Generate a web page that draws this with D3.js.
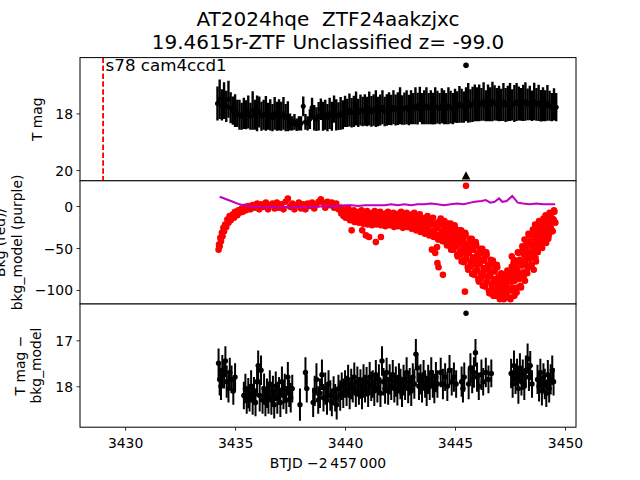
<!DOCTYPE html>
<html><head><meta charset="utf-8">
<script src="https://cdn.jsdelivr.net/npm/d3@7"></script>
<style>body{margin:0;background:#fff} text{font-family:"DejaVu Sans",sans-serif;white-space:pre}</style>
</head><body><svg id="c" width="640" height="480"></svg>
<script>
// ---------------- DATA ----------------
const titleLines = ["AT2024hqe  ZTF24aakzjxc", "19.4615r-ZTF Unclassified z= -99.0"];
const sectorLabel = "s78 cam4ccd1";
const sectorStart = [3429.0];
const xTicks = [3430, 3435, 3440, 3445, 3450];
const topTicks = [18, 20];
const midTicks = [0, -50, -100];
const botTicks = [17, 18];

// T mag light curve
const tmagTime = [3434.2,3434.3,3434.4,3434.5,3434.6,3434.7,3434.8,3434.9,
3435.0,3435.1,3435.2,3435.3,3435.4,3435.5,3435.6,3435.7,3435.8,3435.9,
3436.0,3436.1,3436.2,3436.3,3436.4,3436.5,3436.6,3436.7,3436.8,3436.9,
3437.0,3437.1,3437.2,3437.3,3437.4,3437.5,3437.6,3437.7,3437.8,3437.9,
3438.0,3438.1,3438.2,3438.3,3438.4,3438.5,3438.6,3438.7,3438.8,3438.9,
3439.0,3439.1,3439.2,3439.3,3439.4,3439.5,3439.6,3439.7,3439.8,3439.9,
3440.0,3440.1,3440.2,3440.3,3440.4,3440.5,3440.6,3440.7,3440.8,3440.9,
3441.0,3441.1,3441.2,3441.3,3441.4,3441.5,3441.6,3441.7,3441.8,3441.9,
3442.0,3442.1,3442.2,3442.3,3442.4,3442.5,3442.6,3442.7,3442.8,3442.9,
3443.0,3443.1,3443.2,3443.3,3443.4,3443.5,3443.6,3443.7,3443.8,3443.9,
3444.0,3444.1,3444.2,3444.3,3444.4,3444.5,3444.6,3444.7,3444.8,3444.9,
3445.0,3445.1,3445.2,3445.3,3445.4,3445.5,3445.6,3445.7,3445.8,3445.9,
3446.0,3446.1,3446.2,3446.3,3446.4,3446.5,3446.6,3446.7,3446.8,3446.9,
3447.0,3447.1,3447.2,3447.3,3447.4,3447.5,3447.6,3447.7,3447.8,3447.9,
3448.0,3448.1,3448.2,3448.3,3448.4,3448.5,3448.6,3448.7,3448.8,3448.9,
3449.0,3449.1,3449.2,3449.3,3449.4,3449.5,3449.6];
const tmagValue = [17.65,17.5,17.7,17.55,17.75,17.5,17.8,17.9,
17.9,18.0,18.05,18.1,18.0,18.05,17.95,18.1,17.9,18.05,
18.0,17.95,18.1,18.05,18.0,18.1,18.05,18.15,18.0,18.1,
18.05,18.1,18.0,18.15,18.1,18.3,18.35,18.3,18.4,18.35,
18.35,17.75,18.3,18.35,18.2,17.8,18.15,18.2,18.1,17.85,
18.1,18.05,18.15,18.0,18.1,17.85,18.05,18.1,18.0,18.05,
17.93,17.98,17.88,17.98,17.93,17.83,17.98,17.88,17.93,17.88,
17.93,17.83,17.93,17.88,17.83,17.93,17.88,17.78,17.93,17.88,
17.83,17.88,17.78,17.88,17.83,17.73,17.88,17.83,17.78,17.88,
17.78,17.83,17.73,17.83,17.68,17.83,17.78,17.73,17.83,17.78,
17.83,17.73,17.78,17.83,17.73,17.78,17.83,17.73,17.78,17.83,
17.73,17.78,17.68,17.73,17.78,17.68,17.63,17.73,17.68,17.63,
17.68,17.63,17.68,17.58,17.73,17.63,17.68,17.58,17.63,17.68,
17.65,17.7,17.6,17.7,17.65,17.6,17.7,17.65,17.6,17.65,
17.68,17.63,17.58,17.68,17.63,17.73,17.58,17.68,17.63,17.73,
17.68,17.73,17.63,17.73,17.78,17.68,17.78];
const tmagErr = [0.6,0.7,0.55,0.65,0.55,0.65,0.55,0.5,
0.58,0.48,0.53,0.48,0.55,0.51,0.58,0.48,0.68,0.53,
0.63,0.55,0.51,0.53,0.61,0.48,0.55,0.48,0.58,0.51,
0.55,0.51,0.58,0.48,0.53,0.30,0.25,0.28,0.22,0.25,
0.25,0.35,0.28,0.25,0.35,0.35,0.45,0.42,0.5,0.38,
0.51,0.53,0.48,0.55,0.51,0.48,0.55,0.49,0.58,0.51,
0.55,0.5,0.58,0.52,0.55,0.6,0.5,0.55,0.52,0.56,
0.52,0.6,0.54,0.56,0.65,0.52,0.55,0.6,0.52,0.56,
0.58,0.54,0.6,0.55,0.58,0.65,0.52,0.57,0.6,0.54,
0.6,0.55,0.65,0.56,0.62,0.55,0.6,0.65,0.55,0.6,
0.56,0.65,0.58,0.55,0.62,0.6,0.55,0.65,0.58,0.55,
0.6,0.56,0.65,0.6,0.55,0.6,0.7,0.58,0.62,0.65,
0.6,0.65,0.58,0.68,0.55,0.65,0.6,0.7,0.62,0.58,
0.63,0.57,0.67,0.6,0.63,0.67,0.55,0.65,0.67,0.6,
0.58,0.64,0.68,0.56,0.61,0.54,0.66,0.58,0.64,0.56,
0.6,0.55,0.63,0.53,0.5,0.57,0.5];
// ZTF point and limit
const ztfTime = [3445.5];
const ztfMag = [16.30];
const ztfLimitTime = [3445.5];
const ztfLimitMag = [20.2];

// background flux (red)
const bkgTime = [
3434.25,3434.27,3434.30,3434.33,3434.36,3434.40,3434.43,3434.47,3434.50,3434.55,3434.60,3434.65,3434.70,3434.75,
3434.80,3434.90,3434.95,3435.00,3435.10,3435.15,3435.20,3435.30,3435.35,3435.45,3435.50,3435.60,3435.70,3435.80,
3435.9,3436.0,3436.1,3436.2,3436.3,3436.4,3436.5,3436.6,3436.7,3436.8,3436.9,3437.0,3437.1,3437.2,3437.3,3437.4,
3437.5,3437.6,3437.7,3437.8,3437.9,3438.0,3438.1,3438.2,3438.3,3438.4,3438.5,3438.6,3438.7,3438.8,3438.9,3439.0,
3439.1,3439.2,3439.3,3439.4,3439.5,3439.6,3439.7,
3439.80,3439.85,3439.90,3439.95,3440.00,3440.05,3440.10,3440.15,3440.20,3440.25,3440.30,3440.35,3440.40,3440.45,
3440.50,3440.55,3440.60,3440.65,3440.70,3440.75,3440.80,3440.85,3440.90,3440.95,3441.00,3441.05,3441.10,3441.15,
3441.20,3441.25,3441.30,3441.35,3441.40,3441.45,3441.50,3441.55,3441.60,3441.65,3441.70,3441.75,3441.80,3441.85,
3441.90,3441.95,3442.00,3442.05,3442.10,3442.15,3442.20,3442.25,3442.30,3442.35,3442.40,3442.45,3442.50,3442.55,
3442.60,3442.65,3442.70,3442.75,3442.80,3442.85,3442.90,3442.95,3443.00,3443.05,3443.10,3443.15,3443.20,3443.25,
3443.30,3443.35,3443.40,3443.45,3443.50,3443.55,3443.60,3443.65,3443.70,3443.75,3443.80,3443.85,3443.90,3443.95,
3444.00,3444.05,3444.10,3444.15,3444.20,3444.25,3444.30,3444.35,3444.40,3444.45,3444.50,
3440.30,3440.78,3440.95,3441.09,3441.40,3441.63,
3443.95,3444.10,3444.18,3444.20,3444.25,3444.45,3445.45,
3444.52,3444.56,3444.60,3444.64,3444.68,3444.72,3444.76,3444.80,3444.84,3444.88,3444.92,3444.96,
3445.00,3445.04,3445.08,3445.12,3445.16,3445.20,3445.24,3445.28,3445.32,3445.36,3445.40,3445.44,
3445.48,3445.52,3445.56,3445.60,3445.64,3445.68,3445.72,3445.76,3445.80,3445.84,3445.88,3445.92,
3445.96,3446.00,3446.04,3446.08,3446.12,3446.16,3446.20,3446.24,3446.28,3446.32,3446.36,3446.40,
3446.44,3446.48,3446.52,3446.56,3446.60,3446.64,3446.68,3446.72,3446.76,3446.80,3446.84,3446.88,
3446.92,3446.96,3447.00,3447.04,3447.08,3447.12,3447.16,3447.20,3447.24,3447.28,3447.32,3447.36,
3447.40,3447.44,3447.48,3447.52,3447.56,3447.60,3447.64,3447.68,3447.72,3447.76,3447.80,3447.84,
3447.88,3447.92,3447.96,3448.00,3448.04,3448.08,3448.12,3448.16,3448.20,3448.24,3448.28,3448.32,
3448.36,3448.40,3448.44,3448.48,3448.52,3448.56,3448.60,3448.64,3448.68,3448.72,3448.76,3448.80,
3448.84,3448.88,3448.92,3448.96,3449.00,3449.04,3449.08,3449.12,3449.16,3449.20,3449.24,3449.28,
3449.32,3449.36,3449.40,3449.44,3449.48,3449.52,3449.56,
3447.58,3447.66,3448.58,3448.68,
3445.5];
const bkgFlux = [
-52,-46,-48,-38,-42,-32,-36,-26,-30,-22,-25,-16,-20,-12,
-17,-10,-14,-7,-11,-5,-8,-3,-7,-1,-5,0,-4,1,
-2,3,-4,2,-1,4,-4,1,3,-3,4,-2,2,-4,5,9,
-1,3,-4,1,4,-3,2,-4,3,0,4,-3,2,5,8,4,
-2,5,1,4,-2,3,-4,
-2,-6,-4,-10,-6,-4,-10,-3,-10,-6,-13,-9,-5,-12,
-8,-15,-10,-7,-14,-5,-12,-8,-16,-11,-6,-14,-10,-18,
-12,-8,-16,-6,-13,-9,-18,-12,-7,-15,-10,-19,-13,-9,
-17,-7,-14,-10,-19,-13,-8,-16,-11,-20,-14,-9,-18,-7,
-15,-11,-20,-13,-8,-17,-12,-21,-15,-10,-20,-8,-18,-13,
-24,-16,-10,-22,-16,-28,-20,-14,-27,-12,-24,-18,-31,-22,
-14,-29,-21,-36,-26,-19,-34,-15,-30,-23,-39,
-29,-29,-35,-37,-43,-37,
-52,-56,-49,-68,-73,-82,-102,
-18,-37,-27,-47,-34,-25,-45,-21,-40,-31,-52,-37,
-26,-48,-36,-60,-44,-33,-58,-29,-52,-41,-67,-49,
-34,-62,-47,-76,-56,-44,-72,-39,-65,-52,-82,-62,
-46,-76,-60,-90,-69,-56,-86,-51,-79,-65,-96,-75,
-58,-89,-73,-104,-83,-69,-99,-65,-91,-78,-107,-87,
-73,-100,-86,-111,-94,-84,-106,-82,-99,-88,-109,-92,
-79,-101,-87,-111,-90,-75,-101,-64,-89,-73,-103,-77,
-56,-87,-66,-97,-71,-52,-84,-40,-68,-50,-80,-54,
-35,-63,-44,-71,-48,-32,-58,-22,-45,-31,-55,-35,
-19,-43,-28,-50,-31,-19,-40,-11,-30,-19,-39,-22,
-9,-27,-15,-30,-16,-7,-20,
-60,-68,-76,-66,
24];
// background flux (red), interleaved cadence in the dip
const bkgTime2 = [3444.54,3444.58,3444.62,3444.66,3444.70,3444.74,3444.78,3444.82,3444.86,3444.90,3444.94,3444.98,
3445.02,3445.06,3445.10,3445.14,3445.18,3445.22,3445.26,3445.30,3445.34,3445.38,3445.42,3445.46,
3445.50,3445.54,3445.58,3445.62,3445.66,3445.70,3445.74,3445.78,3445.82,3445.86,3445.90,3445.94,
3445.98,3446.02,3446.06,3446.10,3446.14,3446.18,3446.22,3446.26,3446.30,3446.34,3446.38,3446.42,
3446.46,3446.50,3446.54,3446.58,3446.62,3446.66,3446.70,3446.74,3446.78,3446.82,3446.86,3446.90,
3446.94,3446.98,3447.02,3447.06,3447.10,3447.14,3447.18,3447.22,3447.26,3447.30,3447.34,3447.38,
3447.42,3447.46,3447.50,3447.54,3447.58,3447.62,3447.66,3447.70,3447.74,3447.78,3447.82,3447.86,
3447.90,3447.94,3447.98,3448.02,3448.06,3448.10,3448.14,3448.18,3448.22,3448.26,3448.30,3448.34,
3448.38,3448.42,3448.46,3448.50,3448.54,3448.58,3448.62,3448.66,3448.70,3448.74,3448.78,3448.82,
3448.86,3448.90,3448.94,3448.98,3449.02,3449.06,3449.10,3449.14,3449.18,3449.22,3449.26,3449.30,
3449.34,3449.38,3449.42,3449.46,3449.50,3449.54];
const bkgFlux2 = [-34,-25,-45,-32,-21,-41,-31,-52,-37,-28,-49,-23,
-44,-34,-58,-42,-29,-54,-40,-66,-48,-37,-64,-32,
-57,-45,-73,-54,-39,-67,-52,-81,-61,-48,-78,-43,
-70,-57,-87,-66,-51,-81,-65,-95,-74,-61,-92,-55,
-84,-70,-101,-80,-64,-94,-78,-107,-87,-75,-103,-70,
-95,-84,-108,-92,-80,-102,-91,-111,-96,-85,-106,-77,
-98,-85,-109,-89,-72,-97,-80,-107,-84,-67,-97,-55,
-82,-64,-95,-69,-48,-79,-58,-89,-62,-44,-74,-33,
-59,-42,-70,-46,-28,-54,-37,-62,-40,-26,-50,-18,
-39,-26,-48,-30,-15,-37,-23,-44,-26,-15,-35,-8,
-25,-14,-30,-16,-5,-19];
// background flux (red), lower edge of the 3440-3444 band
const bkgTime3 = [3439.83,3439.93,3440.03,3440.13,3440.23,3440.33,3440.43,3440.53,3440.63,3440.73,3440.83,3440.93,
3441.03,3441.13,3441.23,3441.33,3441.43,3441.53,3441.63,3441.73,3441.83,3441.93,3442.03,3442.13,
3442.23,3442.33,3442.43,3442.53,3442.63,3442.73,3442.83,3442.93,3443.03,3443.13,3443.23,3443.33,
3443.43,3443.53,3443.63,3443.73,3443.83,3443.93,3444.03,3444.13,3444.23,3444.33,3444.43];
const bkgFlux3 = [-9,-12,-14,-11,-17,-15,-19,-16,-20,-17,-21,-18,
-22,-19,-23,-20,-22,-19,-23,-21,-24,-20,-23,-21,
-25,-22,-24,-21,-26,-23,-25,-22,-27,-24,-29,-26,
-31,-28,-33,-30,-35,-32,-37,-34,-40,-37,-42];
// background model (purple)
const bkgModelTime = [3434.3,3434.6,3434.9,3435.2,3435.5,3435.8,3436.1,3436.4,3436.7,3437.0,3437.3,3437.6,3437.9,
3438.2,3438.5,3438.8,3439.1,3439.4,3439.7,3440.0,3440.3,3440.6,3440.9,3441.2,3441.5,3441.8,3442.1,3442.4,
3442.7,3443.0,3443.3,3443.6,3443.9,3444.2,3444.5,3444.8,3445.1,3445.4,3445.7,3445.9,3446.2,3446.4,3446.6,
3446.8,3447.0,3447.15,3447.35,3447.6,3447.85,3448.1,3448.4,3448.7,3449.0,3449.3,3449.55];
const bkgModel = [11,8,5,2,0,-1,-1,-2,-1,-2,-1,-2,-1,
-2,-1,-1,0,-1,0,1,1,0,1,1,1,1,2,1,
2,1,2,2,3,2,1,2,3,2,4,5,6,7,4,
5,9,5,6,12,4,3,2,3,2,2,2];

// T mag - bkg_model
const diffTime = [3434.25,3434.30,3434.36,3434.42,3434.50,3434.56,3434.62,3434.70,3434.76,3434.84,3434.92,3435.00,
3435.40,3435.47,3435.53,3435.60,3435.66,3435.73,3435.80,3435.86,3435.93,3436.00,3436.05,3436.12,3436.18,3436.25,
3436.32,3436.38,3436.45,3436.52,3436.58,3436.65,3436.72,3436.78,3436.85,3436.92,3437.00,3437.06,3437.13,3437.20,
3437.26,3437.33,3437.40,3437.46,3437.53,3437.60,3437.95,3438.20,3438.26,3438.55,3438.62,3438.70,3438.78,3438.86,
3438.95,3439.02,3439.10,3439.18,3439.25,3439.33,3439.40,3439.48,3439.55,3439.62,3439.70,3439.78,3439.85,3439.92,
3440.00,3440.07,3440.14,3440.21,3440.28,3440.35,3440.42,3440.49,3440.56,3440.63,3440.70,3440.77,3440.84,3440.91,
3440.98,3441.05,3441.12,3441.19,3441.26,3441.33,3441.40,3441.47,3441.54,3441.61,3441.68,3441.75,3441.82,3441.89,
3441.96,3442.03,3442.10,3442.17,3442.24,3442.31,3442.38,3442.45,3442.52,3442.59,3442.66,3442.73,3442.80,3442.87,
3442.94,3443.01,3443.08,3443.15,3443.22,3443.29,3443.36,3443.43,3443.50,3443.57,3443.64,3443.71,3443.78,3443.85,
3443.92,3443.99,3444.06,3444.13,3444.20,3444.35,3444.45,3444.55,3444.65,3444.75,3444.85,3444.95,3445.05,3445.30,
3445.36,3445.42,3445.62,3445.70,3445.78,3445.86,3445.93,3446.00,3446.08,3446.20,3446.28,3446.40,3446.52,3446.65,
3447.55,3447.62,3447.68,3447.75,3447.82,3447.88,3447.95,3448.02,3448.08,3448.15,3448.22,3448.30,3448.36,3448.42,
3448.50,3448.75,3448.82,3448.88,3448.95,3449.02,3449.08,3449.15,3449.22,3449.28,3449.35,3449.42,3449.48,3445.5];
const diffValue = [17.50,17.85,18.00,17.65,17.75,17.45,17.90,18.05,17.70,17.85,18.10,17.80,
18.20,18.05,18.30,18.15,18.25,18.00,18.30,18.10,18.35,17.90,17.55,18.20,17.65,18.30,
18.05,18.35,18.15,18.25,17.95,18.30,18.10,18.40,18.00,18.25,18.10,18.35,17.90,18.20,
18.05,18.30,17.80,18.15,18.25,18.05,18.40,17.70,18.05,18.35,18.10,17.85,18.30,18.15,
17.75,18.25,18.05,18.30,17.95,18.20,18.35,18.10,18.25,18.40,18.05,18.20,18.00,18.15,
17.95,18.10,17.85,18.20,17.95,18.05,17.80,18.15,17.90,18.10,17.95,18.20,17.85,18.05,
17.90,18.15,17.80,18.00,17.95,18.10,17.75,18.05,17.85,18.15,17.45,17.90,18.05,17.70,
18.10,17.85,18.00,17.75,18.05,17.90,18.10,17.80,17.95,18.15,17.85,18.00,17.70,18.05,
17.90,18.10,17.80,17.95,17.30,17.60,18.00,17.85,18.05,17.75,17.95,18.10,17.85,18.00,
17.70,17.95,18.05,17.80,17.95,17.70,17.95,17.80,18.00,17.65,17.90,17.80,17.95,17.90,
18.05,17.80,17.95,17.60,17.85,17.70,17.27,17.80,18.00,17.75,17.90,17.70,17.85,17.72,
17.72,17.95,17.55,17.85,17.70,18.05,17.60,17.90,17.75,18.00,17.65,17.40,17.80,17.55,
17.95,17.85,18.00,17.70,18.10,17.80,17.95,18.15,17.75,18.05,17.85,17.65,17.90,16.41];
const diffErr = [0.32,0.35,0.30,0.33,0.30,0.32,0.35,0.30,0.32,0.30,0.30,0.30,
0.30,0.32,0.30,0.33,0.30,0.35,0.32,0.30,0.30,0.32,0.33,0.35,0.32,0.30,
0.33,0.30,0.32,0.35,0.30,0.32,0.33,0.30,0.32,0.35,0.30,0.32,0.33,0.30,
0.32,0.30,0.33,0.30,0.32,0.30,0.35,0.33,0.30,0.32,0.33,0.35,0.30,0.32,
0.33,0.30,0.35,0.32,0.30,0.33,0.30,0.32,0.30,0.32,0.30,0.33,0.30,0.32,
0.30,0.33,0.32,0.30,0.33,0.30,0.32,0.30,0.33,0.30,0.32,0.30,0.33,0.30,
0.32,0.30,0.33,0.32,0.30,0.33,0.32,0.30,0.33,0.30,0.32,0.30,0.33,0.32,
0.30,0.33,0.30,0.32,0.30,0.33,0.32,0.30,0.33,0.30,0.32,0.30,0.33,0.32,
0.30,0.33,0.30,0.32,0.33,0.32,0.30,0.33,0.30,0.32,0.30,0.33,0.32,0.30,
0.33,0.30,0.32,0.33,0.30,0.32,0.33,0.30,0.32,0.33,0.30,0.32,0.30,0.33,
0.30,0.32,0.33,0.32,0.30,0.33,0.30,0.32,0.30,0.33,0.30,0.32,0.30,0.30,
0.32,0.30,0.33,0.32,0.30,0.33,0.32,0.30,0.33,0.30,0.32,0.33,0.30,0.32,
0.30,0.32,0.33,0.30,0.32,0.30,0.33,0.30,0.32,0.30,0.33,0.32,0.30,0.03];

// ---------------- DRAW ----------------
const svg = d3.select("#c");
svg.append("rect").attr("width", 640).attr("height", 480).attr("fill", "#fff");
const L = 80, R = 576, Y = [57.6, 180.8, 304, 427.2];
const x = d3.scaleLinear().domain([3427.95, 3450.5]).range([L, R]);
const yTop = d3.scaleLinear().domain([16.03, 20.38]).range([Y[0], Y[1]]);
const yMid = d3.scaleLinear().domain([30, -116.7]).range([Y[1], Y[2]]);
const yBot = d3.scaleLinear().domain([16.21, 18.89]).range([Y[2], Y[3]]);
const FS = 13.9;

function panel(i) {
  const g = svg.append("g");
  g.append("rect").attr("x", L).attr("y", Y[i]).attr("width", R - L).attr("height", Y[i+1] - Y[i]).attr("fill", "#fff");
  const id = "clip" + i;
  svg.append("clipPath").attr("id", id).append("rect")
    .attr("x", L).attr("y", Y[i]).attr("width", R - L).attr("height", Y[i+1] - Y[i]);
  const c = g.append("g").attr("clip-path", `url(#${id})`);
  return {g, c};
}
function errorbars(c, t, v, e, y, color, sw, r) {
  const d = t.map((tt, k) => ({t: tt, v: v[k], e: e[k]}));
  c.append("g").selectAll("line").data(d).join("line")
    .attr("x1", q => x(q.t)).attr("x2", q => x(q.t))
    .attr("y1", q => y(q.v - q.e)).attr("y2", q => y(q.v + q.e))
    .attr("stroke", color).attr("stroke-width", sw);
  c.append("g").selectAll("circle").data(d).join("circle")
    .attr("cx", q => x(q.t)).attr("cy", q => y(q.v)).attr("r", r).attr("fill", color);
}
function yaxis(g, y, ticks) {
  const ax = g.append("g").attr("transform", `translate(${L},0)`)
    .call(d3.axisLeft(y).tickValues(ticks).tickSize(3.5).tickPadding(3.5).tickFormat(d3.format("d")));
  ax.select(".domain").remove();
  ax.selectAll("line").attr("stroke", "#000").attr("stroke-width", 0.8);
  ax.selectAll("text").attr("font-size", FS).attr("font-family", "DejaVu Sans").attr("fill", "#000").attr("dy", "0.36em");
}
function frame(g, i) {
  g.append("rect").attr("x", L).attr("y", Y[i]).attr("width", R - L).attr("height", Y[i+1] - Y[i])
    .attr("fill", "none").attr("stroke", "#000").attr("stroke-width", 1);
}

// top panel
const p0 = panel(0);
errorbars(p0.c, tmagTime, tmagValue, tmagErr, yTop, "#000", 2.4, 2.5);
p0.c.selectAll("circle.ztf").data(ztfTime).join("circle").attr("class", "ztf")
  .attr("cx", d => x(d)).attr("cy", (d, k) => yTop(ztfMag[k])).attr("r", 2.8).attr("fill", "#000");
p0.c.selectAll("path.lim").data(ztfLimitTime).join("path").attr("class", "lim")
  .attr("transform", (d, k) => `translate(${x(d)},${yTop(ztfLimitMag[k])})`)
  .attr("d", "M0,-4.5L4.3,3.8L-4.3,3.8Z").attr("fill", "#000");
p0.c.selectAll("line.sector").data(sectorStart).join("line").attr("class", "sector")
  .attr("x1", d => x(d)).attr("x2", d => x(d)).attr("y1", Y[0]).attr("y2", Y[1])
  .attr("stroke", "#ff0000").attr("stroke-width", 1.8).attr("stroke-dasharray", "5.5,2.4");
p0.g.selectAll("text.sector").data(sectorStart).join("text").attr("class", "sector")
  .attr("x", d => x(d) + 2.5).attr("y", 71).attr("font-size", 16.7).text(sectorLabel);
yaxis(p0.g, yTop, topTicks);
frame(p0.g, 0);

// middle panel
const p1 = panel(1);
const redPts = bkgTime.map((t, k) => [t, bkgFlux[k]])
  .concat(bkgTime2.map((t, k) => [t, bkgFlux2[k]]))
  .concat(bkgTime3.map((t, k) => [t, bkgFlux3[k]]));
p1.c.append("g").selectAll("circle").data(redPts).join("circle")
  .attr("cx", d => x(d[0])).attr("cy", d => yMid(d[1])).attr("r", 3.3).attr("fill", "#ff0000");
p1.c.append("path").datum(bkgModelTime.map((t, k) => [t, bkgModel[k]]))
  .attr("d", d3.line().x(d => x(d[0])).y(d => yMid(d[1])))
  .attr("fill", "none").attr("stroke", "#bf00bf").attr("stroke-width", 2);
yaxis(p1.g, yMid, midTicks);
frame(p1.g, 1);

// bottom panel
const p2 = panel(2);
errorbars(p2.c, diffTime, diffValue, diffErr, yBot, "#000", 2, 2.7);
yaxis(p2.g, yBot, botTicks);
const xa = p2.g.append("g").attr("transform", `translate(0,${Y[3]})`)
  .call(d3.axisBottom(x).tickValues(xTicks).tickSize(3.5).tickPadding(3.5).tickFormat(d3.format("d")));
xa.select(".domain").remove();
xa.selectAll("line").attr("stroke", "#000").attr("stroke-width", 0.8);
xa.selectAll("text").attr("font-size", FS).attr("font-family", "DejaVu Sans").attr("fill", "#000")
  .attr("y", 20.8).attr("dy", 0);
frame(p2.g, 2);

// labels
function ylab(lines, xs, cy) {
  lines.forEach((s, k) => {
    svg.append("text").attr("transform", `translate(${xs[k]},${cy}) rotate(-90)`)
      .attr("text-anchor", "middle").attr("font-size", FS).text(s);
  });
}
ylab(["T mag"], [42], (Y[0] + Y[1]) / 2);
ylab(["Bkg (red)/", "bkg_model (purple)"], [5, 21.5], (Y[1] + Y[2]) / 2);
ylab(["T mag \u2212", "bkg_model"], [24.5, 41], (Y[2] + Y[3]) / 2);
svg.append("text").attr("x", (L + R) / 2).attr("y", 468).attr("text-anchor", "middle").attr("font-size", FS)
  .text("BTJD \u22122\u2009457\u2009000");
titleLines.forEach((s, k) => {
  svg.append("text").attr("x", (L + R) / 2).attr("y", 26 + k * 23).attr("text-anchor", "middle")
    .attr("xml:space", "preserve").attr("font-size", 20).text(s);
});
</script></body></html>
